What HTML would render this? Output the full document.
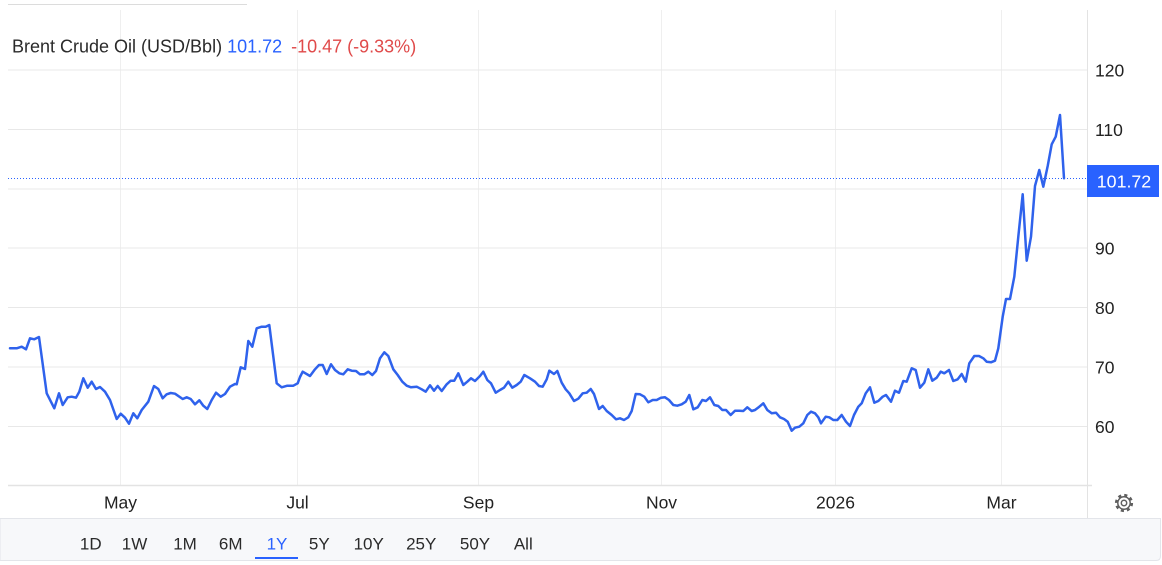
<!DOCTYPE html>
<html>
<head>
<meta charset="utf-8">
<style>
  html,body{margin:0;padding:0;background:#fff;}
  body{width:1162px;height:565px;overflow:hidden;font-family:"Liberation Sans",Arial,sans-serif;}
  svg{display:block;}
  text{font-family:"Liberation Sans",Arial,sans-serif;}
</style>
</head>
<body>
<svg width="1162" height="565" viewBox="0 0 1162 565" xmlns="http://www.w3.org/2000/svg">
  <rect x="0" y="0" width="1162" height="565" fill="#ffffff"/>
  <!-- top remnant line -->
  <line x1="8" y1="4.5" x2="247" y2="4.5" stroke="#dcdcdc" stroke-width="1"/>

  <!-- vertical gridlines -->
  <g stroke="#efefef" stroke-width="1">
    <line x1="120.5" y1="10" x2="120.5" y2="485"/>
    <line x1="297.5" y1="10" x2="297.5" y2="485"/>
    <line x1="478.5" y1="10" x2="478.5" y2="485"/>
    <line x1="661.5" y1="10" x2="661.5" y2="485"/>
    <line x1="835.5" y1="10" x2="835.5" y2="485"/>
    <line x1="1001.5" y1="10" x2="1001.5" y2="485"/>
  </g>
  <!-- horizontal gridlines -->
  <g stroke="#e8e8e8" stroke-width="1">
    <line x1="8" y1="70" x2="1087" y2="70"/>
    <line x1="8" y1="129.5" x2="1087" y2="129.5"/>
    <line x1="8" y1="189" x2="1087" y2="189"/>
    <line x1="8" y1="248" x2="1087" y2="248"/>
    <line x1="8" y1="307.5" x2="1087" y2="307.5"/>
    <line x1="8" y1="367" x2="1087" y2="367"/>
    <line x1="8" y1="426.5" x2="1087" y2="426.5"/>
  </g>

  <!-- right axis separator -->
  <line x1="1087.5" y1="10" x2="1087.5" y2="518" stroke="#e3e3e3" stroke-width="1"/>
  <!-- bottom axis line -->
  <line x1="8" y1="485.5" x2="1092" y2="485.5" stroke="#e3e3e3" stroke-width="1.5"/>

  <!-- title -->
  <text x="12" y="52.5" font-size="18" fill="#2a2a2a">Brent Crude Oil (USD/Bbl) <tspan fill="#2962ff">101.72</tspan><tspan fill="#e04a4a" dx="9">-10.47 (-9.33%)</tspan></text>

  <!-- dotted price line -->
  <line x1="8" y1="178.5" x2="1087" y2="178.5" stroke="#2962ff" stroke-width="1" stroke-dasharray="1,2"/>

  <!-- series -->
  <polyline fill="none" stroke="#2f62ec" stroke-width="2.5" stroke-linejoin="round" stroke-linecap="round"
    points="10,348.3 16.7,348.3 21.7,346.7 26,349.3 30,338.3 34.3,339.3 39,337 46.7,393.3 54.3,408.3 59,393.3 62.7,405 67.7,397.3 71.7,396.7 76,397.7 79.3,391.7 83.3,378.3 87.7,387.7 91.7,381.7 96,389 100,387 105,391.7 110,400 116.7,419 120.7,413.7 125,417.7 129,423.7 133.3,413.3 137.3,418.3 141.7,410 148.3,401.7 154,386 158.3,389 162.7,398.3 166.7,394.3 170.7,393 175,393.7 182.7,399 186.7,397.3 190.7,399 195,404.3 199.3,400.3 203.3,405.7 207.3,409 211.7,400 216,392.7 220.7,396.7 225,394 230,386.7 235,384 236.7,384.3 240.7,367.3 245,369 248.3,341 252.3,346.7 256.7,328.3 261.7,326.7 265.7,326.7 269.3,325 276.7,383.3 281.7,387.3 287.3,385.7 293.3,385.7 297.7,383.3 300,377 302.7,371.7 310,376 315,369.3 319,365 322.7,365 326.7,374 331,364.3 335,370 339.3,373.3 343.3,374.3 347.7,369.3 351.7,370.7 356,371 360,374.3 364.3,374.3 368.3,371.7 372.3,375 376,371 380,358.3 384.3,352.3 388.3,356 393.3,369.3 397.7,375 402.3,381.7 406.7,385.7 411,387.3 416.7,386.7 421.7,389.3 425.7,391.7 430,385.3 434,390.7 437.7,386 441.7,391 446.7,384.3 450.7,380.7 454.3,380.7 458.3,373.3 463.3,385 467.3,381.7 471,378.3 475,381 480,376 483.3,371.7 487.3,380 491,383.3 495.7,392.7 500,390 504,387.7 508.3,381.7 512.3,387.7 516.7,385 520.7,381.7 524.3,375 530,378.3 535,381.7 539,386 542.7,386.7 546.7,379.3 549.3,370.7 554,374 557.3,371 561.7,382.7 565.7,389.3 569.3,393.3 574,401 578.3,398.7 582.7,393.3 586.7,392.7 590.7,389 594,394 599,409 602.7,406 606.7,411 611.7,415 616,419.3 620,418.3 624,420 628.3,417.3 631.7,411 635.7,394 640,394.3 644.3,396.7 648.3,402.3 652.7,400 656.7,400 661,397.7 665,397.3 669,400 673.3,405 677.3,405.7 681.7,404.3 685.7,401.7 689.3,395 693.3,409.3 697.7,407.3 702.3,400 706,401 710,397.3 714.3,405 718.3,406 722.3,410 726,410 730.7,415 735,410.7 739.3,410.7 743.3,411 747.3,407.3 751.7,411 755,410 759.3,406.7 763.3,403.3 767.3,410 771.7,413.3 776,412.7 780,417.3 784,419 787.7,421.7 791.7,430.7 795,427.7 799.3,426.7 803.3,423.3 807.3,415 811,411.7 815,413.3 818.3,417.3 821,423.3 825.7,416.7 829.3,417.3 833.3,420 837.3,420 841.7,415 846,421.7 850,426 854,415 858.3,406.7 861.7,403.3 865.7,393.3 870,387.3 874.3,402.7 878.3,401 882.7,396.7 886,395 891,401.7 895,390.7 899,392.7 903.3,381 906.7,381.7 911.7,368.3 915.7,370 920,387.7 924.3,382.7 928.3,369.3 932.3,380.7 936.7,377.7 940.7,371.7 944.3,373.3 949,370 953.3,381 957.7,379.3 961.7,374 965.7,381.7 969.3,363.3 974.3,356 979,356 983.3,358.3 986.7,361.7 991,362.3 995,360.7 998.3,348.3 1002.7,316.7 1006,299 1010,299 1014.3,276.7 1018.3,236.7 1022.7,194.3 1026.7,260.7 1031,236.7 1035,186 1039.3,170 1043.3,186.7 1047.7,166 1051.7,144.3 1055.7,136.7 1060,115 1064,178.3"/>

  <!-- y-axis labels -->
  <g font-size="17.5" fill="#222">
    <text x="1095" y="76.3">120</text>
    <text x="1095" y="135.8">110</text>
    <text x="1095" y="254.3">90</text>
    <text x="1095" y="313.8">80</text>
    <text x="1095" y="373.3">70</text>
    <text x="1095" y="432.8">60</text>
  </g>
  <!-- price tag -->
  <rect x="1087" y="165" width="72" height="32" fill="#2962ff"/>
  <text x="1124" y="187.3" font-size="17.8" fill="#ffffff" text-anchor="middle">101.72</text>

  <!-- x-axis labels -->
  <g font-size="17.5" fill="#222" text-anchor="middle">
    <text x="120.5" y="508.3">May</text>
    <text x="297.5" y="508.3">Jul</text>
    <text x="478.5" y="508.3">Sep</text>
    <text x="661.5" y="508.3">Nov</text>
    <text x="835.5" y="508.3">2026</text>
    <text x="1001.5" y="508.3">Mar</text>
  </g>

  <!-- gear icon -->
  <g transform="translate(1124,503)" fill="none" stroke="#5f5f5f">
    <circle r="7.6" stroke-width="3" stroke-dasharray="3 2.97"/>
    <circle r="6.2" stroke-width="1.5"/>
    <circle r="2.7" stroke-width="1.5"/>
  </g>

  <!-- bottom toolbar -->
  <path d="M0,518.5 H1160.5 V556 Q1160.5,560.5 1156,560.5 H0 Z" fill="#f7f8fa" stroke="#e3e5ea" stroke-width="1"/>
  <g font-size="17" fill="#2a2a2a" text-anchor="middle">
    <text x="90.8" y="549.5">1D</text>
    <text x="134.5" y="549.5">1W</text>
    <text x="185" y="549.5">1M</text>
    <text x="230.7" y="549.5">6M</text>
    <text x="277" y="549.5" fill="#2962ff">1Y</text>
    <text x="319.3" y="549.5">5Y</text>
    <text x="368.7" y="549.5">10Y</text>
    <text x="421.2" y="549.5">25Y</text>
    <text x="475" y="549.5">50Y</text>
    <text x="523.3" y="549.5">All</text>
  </g>
  <rect x="255" y="557" width="43" height="2" fill="#2962ff"/>
</svg>
</body>
</html>
